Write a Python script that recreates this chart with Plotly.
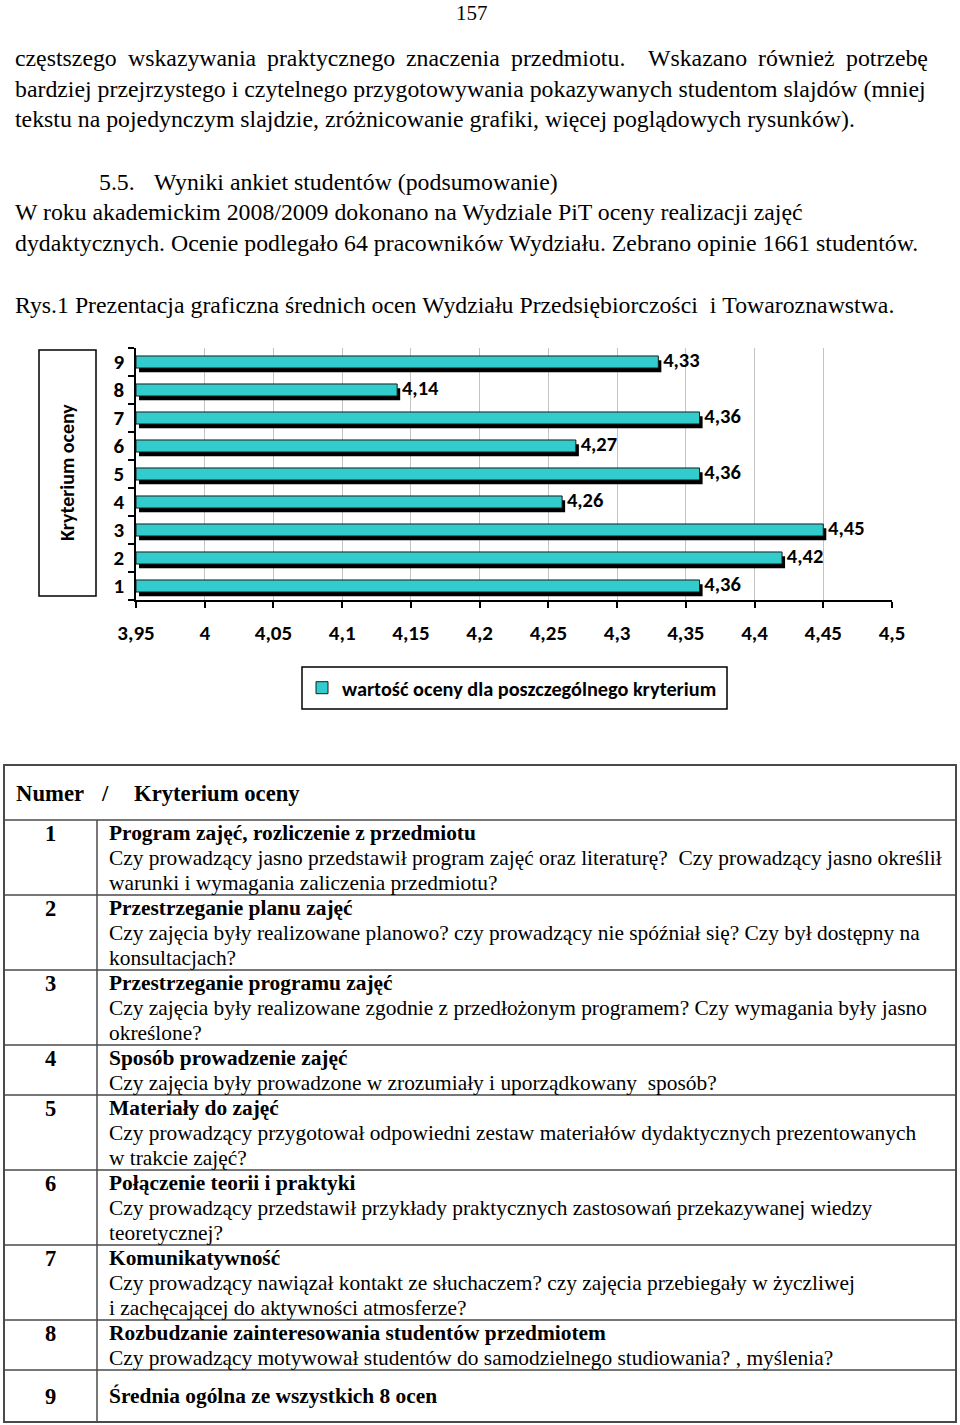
import plotly.graph_objects as go

W, H = 960, 1425

# ---------------- data ----------------
criteria = ["1", "2", "3", "4", "5", "6", "7", "8", "9"]
scores = [4.36, 4.42, 4.45, 4.26, 4.36, 4.27, 4.36, 4.14, 4.33]
x_ticks = [3.95, 4.0, 4.05, 4.1, 4.15, 4.2, 4.25, 4.3, 4.35, 4.4, 4.45, 4.5]
x_tick_labels = ["3,95", "4", "4,05", "4,1", "4,15", "4,2", "4,25", "4,3", "4,35", "4,4", "4,45", "4,5"]
series_name = "wartość oceny dla poszczególnego kryterium"
axis_title = "Kryterium oceny"
score_labels = [f"{v:.2f}".replace(".", ",") for v in scores]

page_number = "157"
paragraph_first_line_words = ["częstszego", "wskazywania", "praktycznego", "znaczenia",
                              "przedmiotu.", "Wskazano", "również", "potrzebę"]
paragraph_lines = [
    "bardziej przejrzystego i czytelnego przygotowywania pokazywanych studentom slajdów (mniej",
    "tekstu na pojedynczym slajdzie, zróżnicowanie grafiki, więcej poglądowych rysunków).",
]
section_number = "5.5."
section_heading = "Wyniki ankiet studentów (podsumowanie)"
section_lines = [
    "W roku akademickim 2008/2009 dokonano na Wydziale PiT oceny realizacji zajęć",
    "dydaktycznych. Ocenie podlegało 64 pracowników Wydziału. Zebrano opinie 1661 studentów.",
]
figure_caption = "Rys.1 Prezentacja graficzna średnich ocen Wydziału Przedsiębiorczości  i Towaroznawstwa."

table_header = ["Numer", "/", "Kryterium oceny"]
table_numbers = ["1", "2", "3", "4", "5", "6", "7", "8", "9"]
table_titles = [
    "Program zajęć, rozliczenie z przedmiotu",
    "Przestrzeganie planu zajęć",
    "Przestrzeganie programu zajęć",
    "Sposób prowadzenie zajęć",
    "Materiały do zajęć",
    "Połączenie teorii i praktyki",
    "Komunikatywność",
    "Rozbudzanie zainteresowania studentów przedmiotem",
    "Średnia ogólna ze wszystkich 8 ocen",
]
table_descriptions = [
    ["Czy prowadzący jasno przedstawił program zajęć oraz literaturę?  Czy prowadzący jasno określił",
     "warunki i wymagania zaliczenia przedmiotu?"],
    ["Czy zajęcia były realizowane planowo? czy prowadzący nie spóźniał się? Czy był dostępny na",
     "konsultacjach?"],
    ["Czy zajęcia były realizowane zgodnie z przedłożonym programem? Czy wymagania były jasno",
     "określone?"],
    ["Czy zajęcia były prowadzone w zrozumiały i uporządkowany  sposób?"],
    ["Czy prowadzący przygotował odpowiedni zestaw materiałów dydaktycznych prezentowanych",
     "w trakcie zajęć?"],
    ["Czy prowadzący przedstawił przykłady praktycznych zastosowań przekazywanej wiedzy",
     "teoretycznej?"],
    ["Czy prowadzący nawiązał kontakt ze słuchaczem? czy zajęcia przebiegały w życzliwej",
     "i zachęcającej do aktywności atmosferze?"],
    ["Czy prowadzący motywował studentów do samodzielnego studiowania? , myślenia?"],
    [],
]

# ---------------- layout constants ----------------
CYAN = "#33CCCC"
SERIF = "Liberation Serif, Times New Roman, serif"
SANS = "Carlito, Lato, sans-serif"
X_MIN = x_ticks[0]
BODY = 23.8      # paragraph font size
TBL = 21.4       # table font size
first_line_word_x = [14, 127, 266, 405, 510, 647, 757, 845]


def px(x):
    return x / W


def py(y):
    return 1 - y / H


fig = go.Figure()

# shadow bars
fig.add_trace(go.Bar(
    y=criteria, x=[v - X_MIN for v in scores], base=X_MIN + 0.0022,
    orientation="h", width=0.43, offset=-0.37,
    marker=dict(color="#000000", line=dict(width=0)),
    showlegend=False, hoverinfo="skip",
))
# main bars
fig.add_trace(go.Bar(
    y=criteria, x=[v - X_MIN for v in scores], base=X_MIN,
    orientation="h", width=0.43, offset=-0.215,
    marker=dict(color=CYAN, line=dict(color="#1a1a1a", width=1)),
    name=series_name, showlegend=True,
))
# value labels
fig.add_trace(go.Scatter(
    y=criteria, x=[v + 0.0035 for v in scores], mode="text",
    text=score_labels, textposition="middle right",
    textfont=dict(family=SANS, size=20.5, color="#000000", weight="bold"),
    showlegend=False, hoverinfo="skip", cliponaxis=False,
))

fig.update_layout(
    width=W, height=H, autosize=False,
    margin=dict(l=0, r=0, t=0, b=0, autoexpand=False),
    paper_bgcolor="white", plot_bgcolor="white",
    barmode="overlay",
    xaxis=dict(
        domain=[px(136), px(892)], range=[X_MIN, x_ticks[-1]],
        tickmode="array", tickvals=x_ticks, ticktext=x_tick_labels,
        showgrid=True, gridcolor="#C4C4C4", gridwidth=1,
        zeroline=False, showline=True, linecolor="#000000", linewidth=1.5,
        ticks="outside", ticklen=6, tickcolor="#000000", tickwidth=1.5,
        ticklabelstandoff=7, automargin=False,
        tickfont=dict(family=SANS, size=21, color="#000000", weight="bold"),
    ),
    yaxis=dict(
        domain=[py(600), py(348)], type="category",
        categoryorder="array", categoryarray=criteria, range=[-0.5, 8.5],
        tickson="boundaries", ticks="outside", ticklen=6,
        tickcolor="#000000", tickwidth=1.5,
        showgrid=False, zeroline=False, showline=True,
        linecolor="#000000", linewidth=1.5, ticklabelstandoff=6,
        automargin=False,
        tickfont=dict(family=SANS, size=21, color="#000000", weight="bold"),
    ),
    legend=dict(
        x=px(512), y=py(688), xanchor="center", yanchor="middle",
        orientation="h", bgcolor="rgba(0,0,0,0)", borderwidth=0,
        font=dict(family=SANS, size=20.3, color="#000000", weight="bold"),
        itemwidth=30,
    ),
    font=dict(family=SERIF, color="#000000"),
)

shapes = []
annotations = []


def text(x, y, s, size=TBL, bold=False, anchor="left", family=SERIF, angle=0, yanchor="middle"):
    annotations.append(dict(
        x=px(x), y=py(y), xref="paper", yref="paper", text=s, showarrow=False,
        xanchor=anchor, yanchor=yanchor, textangle=angle, borderpad=0,
        font=dict(family=family, size=size, color="#000000",
                  weight="bold" if bold else "normal"),
    ))


def line(x0, y0, x1, y1, color="#4a4a4a", width=1.5):
    shapes.append(dict(type="line", xref="paper", yref="paper",
                       x0=px(x0), y0=py(y0), x1=px(x1), y1=py(y1),
                       line=dict(color=color, width=width)))


def rect(x0, y0, x1, y1, color="#000000", width=1.5):
    shapes.append(dict(type="rect", xref="paper", yref="paper",
                       x0=px(x0), y0=py(y0), x1=px(x1), y1=py(y1),
                       line=dict(color=color, width=width), fillcolor="rgba(0,0,0,0)"))


# page text
text(472, 0, page_number, size=21, anchor="center", yanchor="top")
for wx, w in zip(first_line_word_x, paragraph_first_line_words):
    text(wx, 58, w, size=BODY)
for i, s in enumerate(paragraph_lines):
    text(14, 88.5 + i * 30.5, s, size=BODY)
text(98, 182, section_number, size=BODY)
text(153, 182, section_heading, size=BODY)
for i, s in enumerate(section_lines):
    text(14, 212 + i * 31, s, size=BODY)
text(14, 305, figure_caption.replace(" ", "\u00a0"), size=BODY)

# chart frame elements
rect(39, 350, 96, 596, width=1.5)
text(67, 473, axis_title, size=20, bold=True, anchor="center", family=SANS, angle=-90)
rect(302, 667, 727, 709, width=1.5)

# table
row_tops = [820, 895, 970, 1045, 1095, 1170, 1245, 1320, 1370]
table_bottom = 1422
rect(4, 765, 956, table_bottom, color="#4a4a4a", width=2)
for t in row_tops:
    line(4, t, 956, t)
line(97, row_tops[0], 97, table_bottom)
text(15, 793, table_header[0], bold=True, size=22.7)
text(100, 793, table_header[1], bold=True, size=22.7)
text(133, 793, table_header[2], bold=True, size=22.7)
for i, num in enumerate(table_numbers):
    top = row_tops[i]
    if table_descriptions[i]:
        y0 = top + 13
    else:
        y0 = (top + table_bottom) / 2
    text(50, y0, num, bold=True, anchor="center", size=22.5)
    text(108, y0, table_titles[i], bold=True)
    for j, d in enumerate(table_descriptions[i]):
        text(108, y0 + 25 * (j + 1), d.replace(" ", "\u00a0"))

fig.update_layout(shapes=shapes, annotations=annotations)
fig.write_html("out.html")
